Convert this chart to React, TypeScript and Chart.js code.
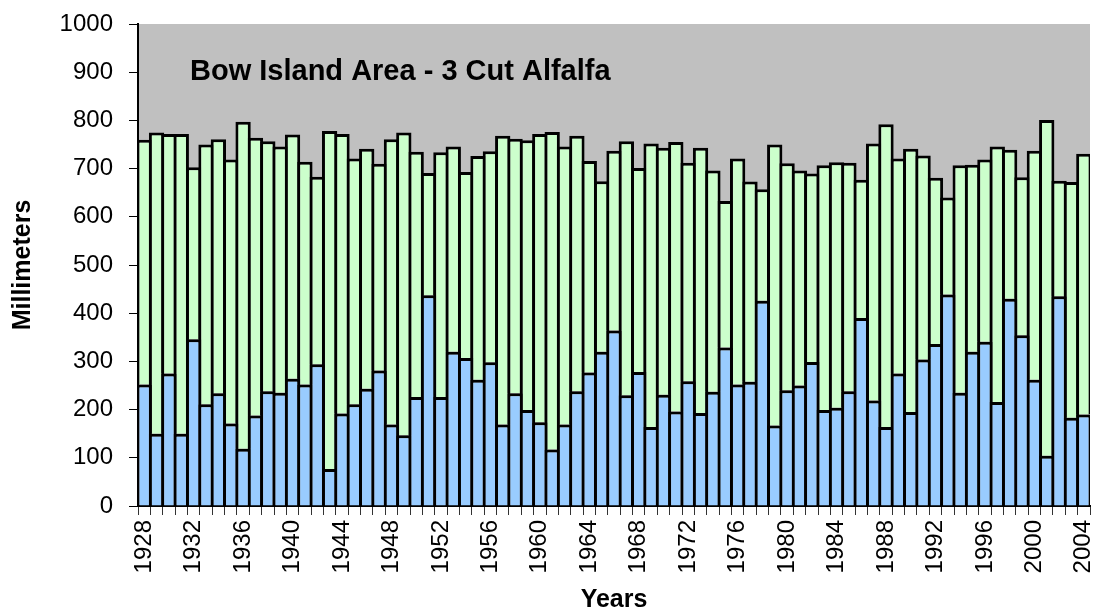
import React, { useEffect, useRef } from 'react';
import { Chart, registerables } from 'chart.js';

Chart.register(...registerables);

const years = [
  '1928', '1929', '1930', '1931', '1932', '1933', '1934', '1935', '1936', '1937',
  '1938', '1939', '1940', '1941', '1942', '1943', '1944', '1945', '1946', '1947',
  '1948', '1949', '1950', '1951', '1952', '1953', '1954', '1955', '1956', '1957',
  '1958', '1959', '1960', '1961', '1962', '1963', '1964', '1965', '1966', '1967',
  '1968', '1969', '1970', '1971', '1972', '1973', '1974', '1975', '1976', '1977',
  '1978', '1979', '1980', '1981', '1982', '1983', '1984', '1985', '1986', '1987',
  '1988', '1989', '1990', '1991', '1992', '1993', '1994', '1995', '1996', '1997',
  '1998', '1999', '2000', '2001', '2002', '2003', '2004',
];

// lower (blue) segment, mm
const blueValues = [
  252, 150, 275, 150, 346, 211, 234, 171, 119, 188,
  238, 235, 264, 252, 294, 77, 192, 211, 243, 281,
  169, 147, 226, 437, 226, 320, 307, 262, 298, 169,
  234, 199, 174, 117, 169, 238, 277, 320, 364, 230,
  278, 164, 231, 196, 259, 193, 237, 329, 252, 258,
  426, 167, 240, 250, 299, 199, 204, 238, 390, 219,
  164, 275, 195, 304, 336, 439, 235, 320, 341, 216,
  430, 354, 262, 104, 435, 183, 190,
];

// upper (green) segment, mm
const greenValues = [
  508, 625, 497, 622, 357, 539, 527, 548, 678, 576,
  519, 511, 507, 462, 389, 701, 580, 510, 498, 429,
  592, 628, 509, 254, 508, 426, 386, 464, 438, 599,
  528, 560, 598, 659, 577, 530, 439, 354, 373, 527,
  423, 588, 512, 559, 453, 550, 459, 304, 469, 415,
  231, 583, 471, 446, 391, 508, 509, 474, 287, 533,
  628, 446, 546, 423, 345, 201, 472, 388, 378, 530,
  309, 328, 475, 697, 240, 489, 541,
];

const chartTitle = 'Bow Island Area - 3 Cut Alfalfa';
const xTitle = 'Years';
const yTitle = 'Millimeters';

const FONT = "'Liberation Sans', Arial, Helvetica, sans-serif";

export default function App() {
  const ref = useRef<HTMLCanvasElement | null>(null);

  useEffect(() => {
    if (!ref.current) return;

    const plotBg = {
      id: 'plotBg',
      beforeDraw(chart: any) {
        const { ctx, chartArea } = chart;
        const { left, top, right, bottom } = chartArea;
        ctx.save();
        ctx.fillStyle = '#C0C0C0';
        ctx.fillRect(left, top, right - left, bottom - top);
        ctx.restore();
      },
    };

    const innerTitle = {
      id: 'innerTitle',
      afterDraw(chart: any) {
        const { ctx } = chart;
        ctx.save();
        ctx.font = `bold 29px ${FONT}`;
        ctx.fillStyle = '#000';
        ctx.textAlign = 'left';
        ctx.textBaseline = 'alphabetic';
        ctx.fillText(chartTitle, 190, 80);
        ctx.restore();
      },
    };

    const chart = new Chart(ref.current, {
      type: 'bar',
      data: {
        labels: years,
        datasets: [
          {
            label: 'Series 1',
            data: blueValues,
            backgroundColor: '#99CCFF',
            borderColor: '#000000',
            borderWidth: 3,
            borderSkipped: 'start',
            barPercentage: 1.24,
            categoryPercentage: 1,
          },
          {
            label: 'Series 2',
            data: greenValues,
            backgroundColor: '#CCFFCC',
            borderColor: '#000000',
            borderWidth: 3,
            borderSkipped: 'start',
            barPercentage: 1.24,
            categoryPercentage: 1,
          },
        ],
      },
      options: {
        responsive: false,
        animation: false,
        devicePixelRatio: 1,
        layout: { padding: { top: 24, right: 4, left: 0, bottom: 0 } },
        plugins: {
          legend: { display: false },
          tooltip: { enabled: false },
          title: { display: false },
        },
        scales: {
          x: {
            stacked: true,
            offset: true,
            grid: {
              offset: true,
              drawOnChartArea: false,
              drawTicks: true,
              tickLength: 9,
              color: '#333333',
              lineWidth: 1,
            },
            border: { display: true, color: '#000000', width: 2 },
            ticks: {
              autoSkip: false,
              maxRotation: 90,
              minRotation: 90,
              padding: 5,
              color: '#000000',
              font: { family: FONT, size: 24 },
              callback: (_v: any, i: number) => (i % 4 === 0 ? years[i] : ''),
            },
            title: {
              display: true,
              text: xTitle,
              color: '#000000',
              font: { family: FONT, size: 25, weight: 'bold' },
              padding: { top: 0, bottom: -2 },
            },
            afterFit(scale: any) {
              scale.height = 107;
              scale.paddingLeft = 0;
              scale.paddingRight = 0;
              scale.paddingTop = 0;
              scale.paddingBottom = 0;
            },
          },
          y: {
            stacked: true,
            min: 0,
            max: 1000,
            grid: {
              drawOnChartArea: false,
              drawTicks: true,
              tickLength: 9,
              color: '#000000',
              lineWidth: 1,
            },
            border: { display: true, color: '#000000', width: 2 },
            ticks: {
              stepSize: 100,
              padding: 16,
              color: '#000000',
              font: { family: FONT, size: 24 },
              callback: (v: any) => String(v),
            },
            title: {
              display: true,
              text: yTitle,
              color: '#000000',
              font: { family: FONT, size: 25, weight: 'bold' },
              padding: { top: 8, bottom: 0 },
            },
            afterFit(scale: any) {
              scale.width = 138;
              scale.paddingLeft = 0;
              scale.paddingRight = 0;
              scale.paddingTop = 0;
              scale.paddingBottom = 0;
            },
          },
        },
      },
      plugins: [plotBg, innerTitle],
    } as any);

    return () => {
      chart.destroy();
    };
  }, []);

  return (
    <div style={{ position: 'absolute', left: 0, top: 0, width: 1094, height: 613, background: '#fff' }}>
      <canvas ref={ref} width={1094} height={613} style={{ display: 'block' }} />
    </div>
  );
}
